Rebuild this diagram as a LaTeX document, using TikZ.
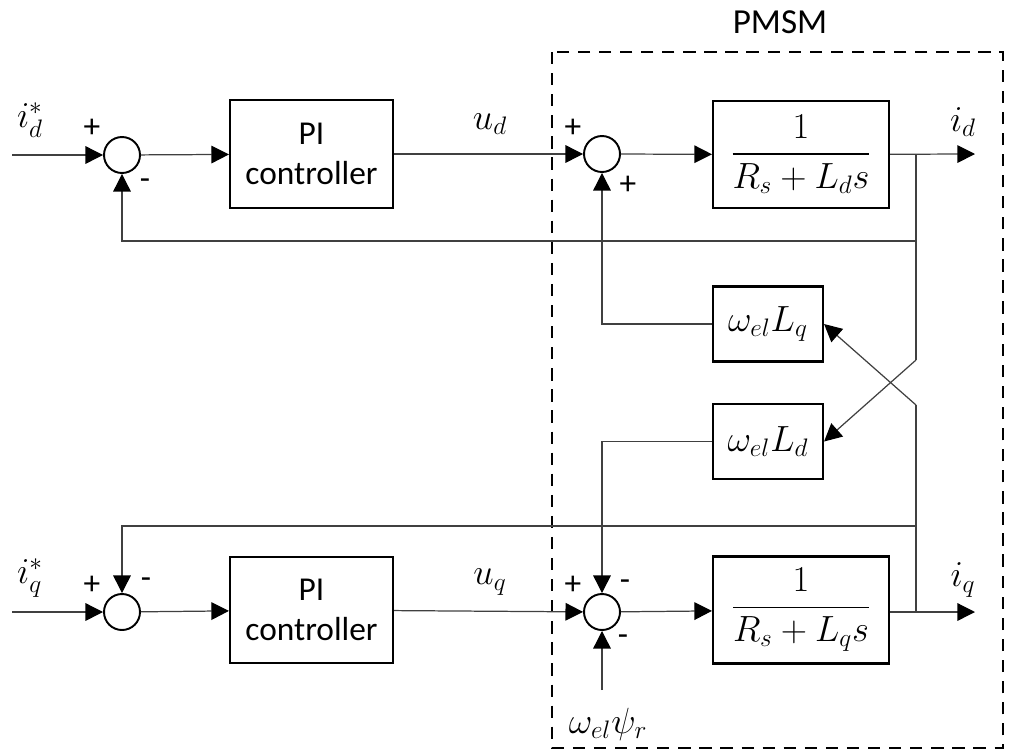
\documentclass[tikz,border=0pt]{standalone}
\usepackage{amsmath,amssymb}
\usepackage{fontspec}
\setmainfont{Carlito}
\usepackage{tikz}
\usetikzlibrary{arrows.meta, positioning, calc}
\definecolor{wire}{HTML}{404040}

\tikzset{
  block/.style={draw, line width=1.2pt, align=center, inner sep=0pt},
  sumnode/.style={draw, circle, line width=1.1pt, minimum size=0.72cm, inner sep=0pt},
  wirearrow/.style={draw=wire, line width=0.7pt, -{Triangle[length=10pt, width=10pt, color=black]}},
  wireline/.style={draw=wire, line width=0.7pt},
  sign/.style={font=\fontsize{19}{20}\selectfont, inner sep=0pt},
  mathlabel/.style={font=\fontsize{22}{24}\selectfont, inner sep=0pt}
}

\begin{document}
\begin{tikzpicture}[x=0.02cm, y=-0.02cm]
        \useasboundingbox (0,0) rectangle (1013,751);
        % machine frame
        \draw[dashed, line width=1.2pt, dash pattern=on 7pt off 5pt] (552,52) rectangle (1003,748);
        \node[font=\fontsize{20}{22}\selectfont] (pmsm) at (780,22) {PMSM};
        % d axis
        \node[sumnode] (sumd) at (122,155) {};
        \node[block, minimum width=3.26cm, minimum height=2.16cm, font=\fontsize{19}{23}\selectfont] (pid) at (311.5,154) {PI\\controller};
        \node[sumnode] (sumpd) at (602,154) {};
        \node[block, minimum width=3.52cm, minimum height=2.14cm, font=\fontsize{22}{24}\selectfont] (plantd) at (801,154.5) {$\dfrac{1}{R_s+L_d s}$};
        \node[block, minimum width=2.2cm, minimum height=1.5cm, font=\fontsize{22}{24}\selectfont] (wlq) at (768,324) {$\omega_{el}L_q$};
        % q axis
        \node[block, minimum width=2.2cm, minimum height=1.5cm, font=\fontsize{22}{24}\selectfont] (wld) at (768,441.5) {$\omega_{el}L_d$};
        \node[sumnode] (sumq) at (122,612) {};
        \node[block, minimum width=3.26cm, minimum height=2.12cm, font=\fontsize{19}{23}\selectfont] (piq) at (311.5,610) {PI\\controller};
        \node[sumnode] (sumpq) at (602,612) {};
        \node[block, minimum width=3.52cm, minimum height=2.14cm, font=\fontsize{22}{24}\selectfont] (plantq) at (801,610) {$\dfrac{1}{R_s+L_q s}$};
        % free ends
        \coordinate (idin) at (12,155);
        \coordinate (iqin) at (12,612);
        \coordinate (idout) at (975,154);
        \coordinate (iqout) at (975,612);
        \coordinate (brd) at (916,154);
        \coordinate (brq) at (916,612);
        \coordinate (psiin) at (602,690);
        % labels
        \node[mathlabel] (lidref) at (30,120) {$i_d^*$};
        \node[mathlabel] (liqref) at (30,578) {$i_q^*$};
        \node[mathlabel] (lud) at (490,124) {$u_d$};
        \node[mathlabel] (luq) at (490,582) {$u_q$};
        \node[mathlabel] (lid) at (963,122) {$i_d$};
        \node[mathlabel] (liq) at (963,580) {$i_q$};
        \node[mathlabel] (lpsi) at (608,724) {$\omega_{el}\psi_r$};
        % signs
        \node[sign] at (92,128) {+};
        \node[sign] at (145,184) {-};
        \node[sign] at (573,128) {+};
        \node[sign] at (628,185) {+};
        \node[sign] at (92,585) {+};
        \node[sign] at (146,583) {-};
        \node[sign] at (573,585) {+};
        \node[sign] at (625,585) {-};
        \node[sign] at (623,640) {-};
        % d path
        \draw[wirearrow] (idin) -- (sumd);
        \draw[wirearrow] (sumd) -- (pid);
        \draw[wirearrow] (pid) -- (sumpd);
        \draw[wirearrow] (sumpd) -- (plantd);
        \draw[wirearrow] (plantd) -- (idout);
        \draw[wirearrow] (brd |- 0,241) -| (sumd);
        \draw[wirearrow] (wlq) -| (sumpd);
        \draw[wireline] (brd) -- (916,360);
        \draw[wirearrow] (916,360) -- (wld.east);
        % q path
        \draw[wirearrow] (iqin) -- (sumq);
        \draw[wirearrow] (sumq) -- (piq);
        \draw[wirearrow] (piq) -- (sumpq);
        \draw[wirearrow] (sumpq) -- (plantq);
        \draw[wirearrow] (plantq.east |- brq) -- (iqout);
        \draw[wirearrow] (brq |- 0,526) -| (sumq);
        \draw[wirearrow] (wld) -| (sumpq);
        \draw[wirearrow] (psiin) -- (sumpq);
        \draw[wireline] (brq) -- (916,405);
        \draw[wirearrow] (916,405) -- (wlq.east);
\end{tikzpicture}
\end{document}
